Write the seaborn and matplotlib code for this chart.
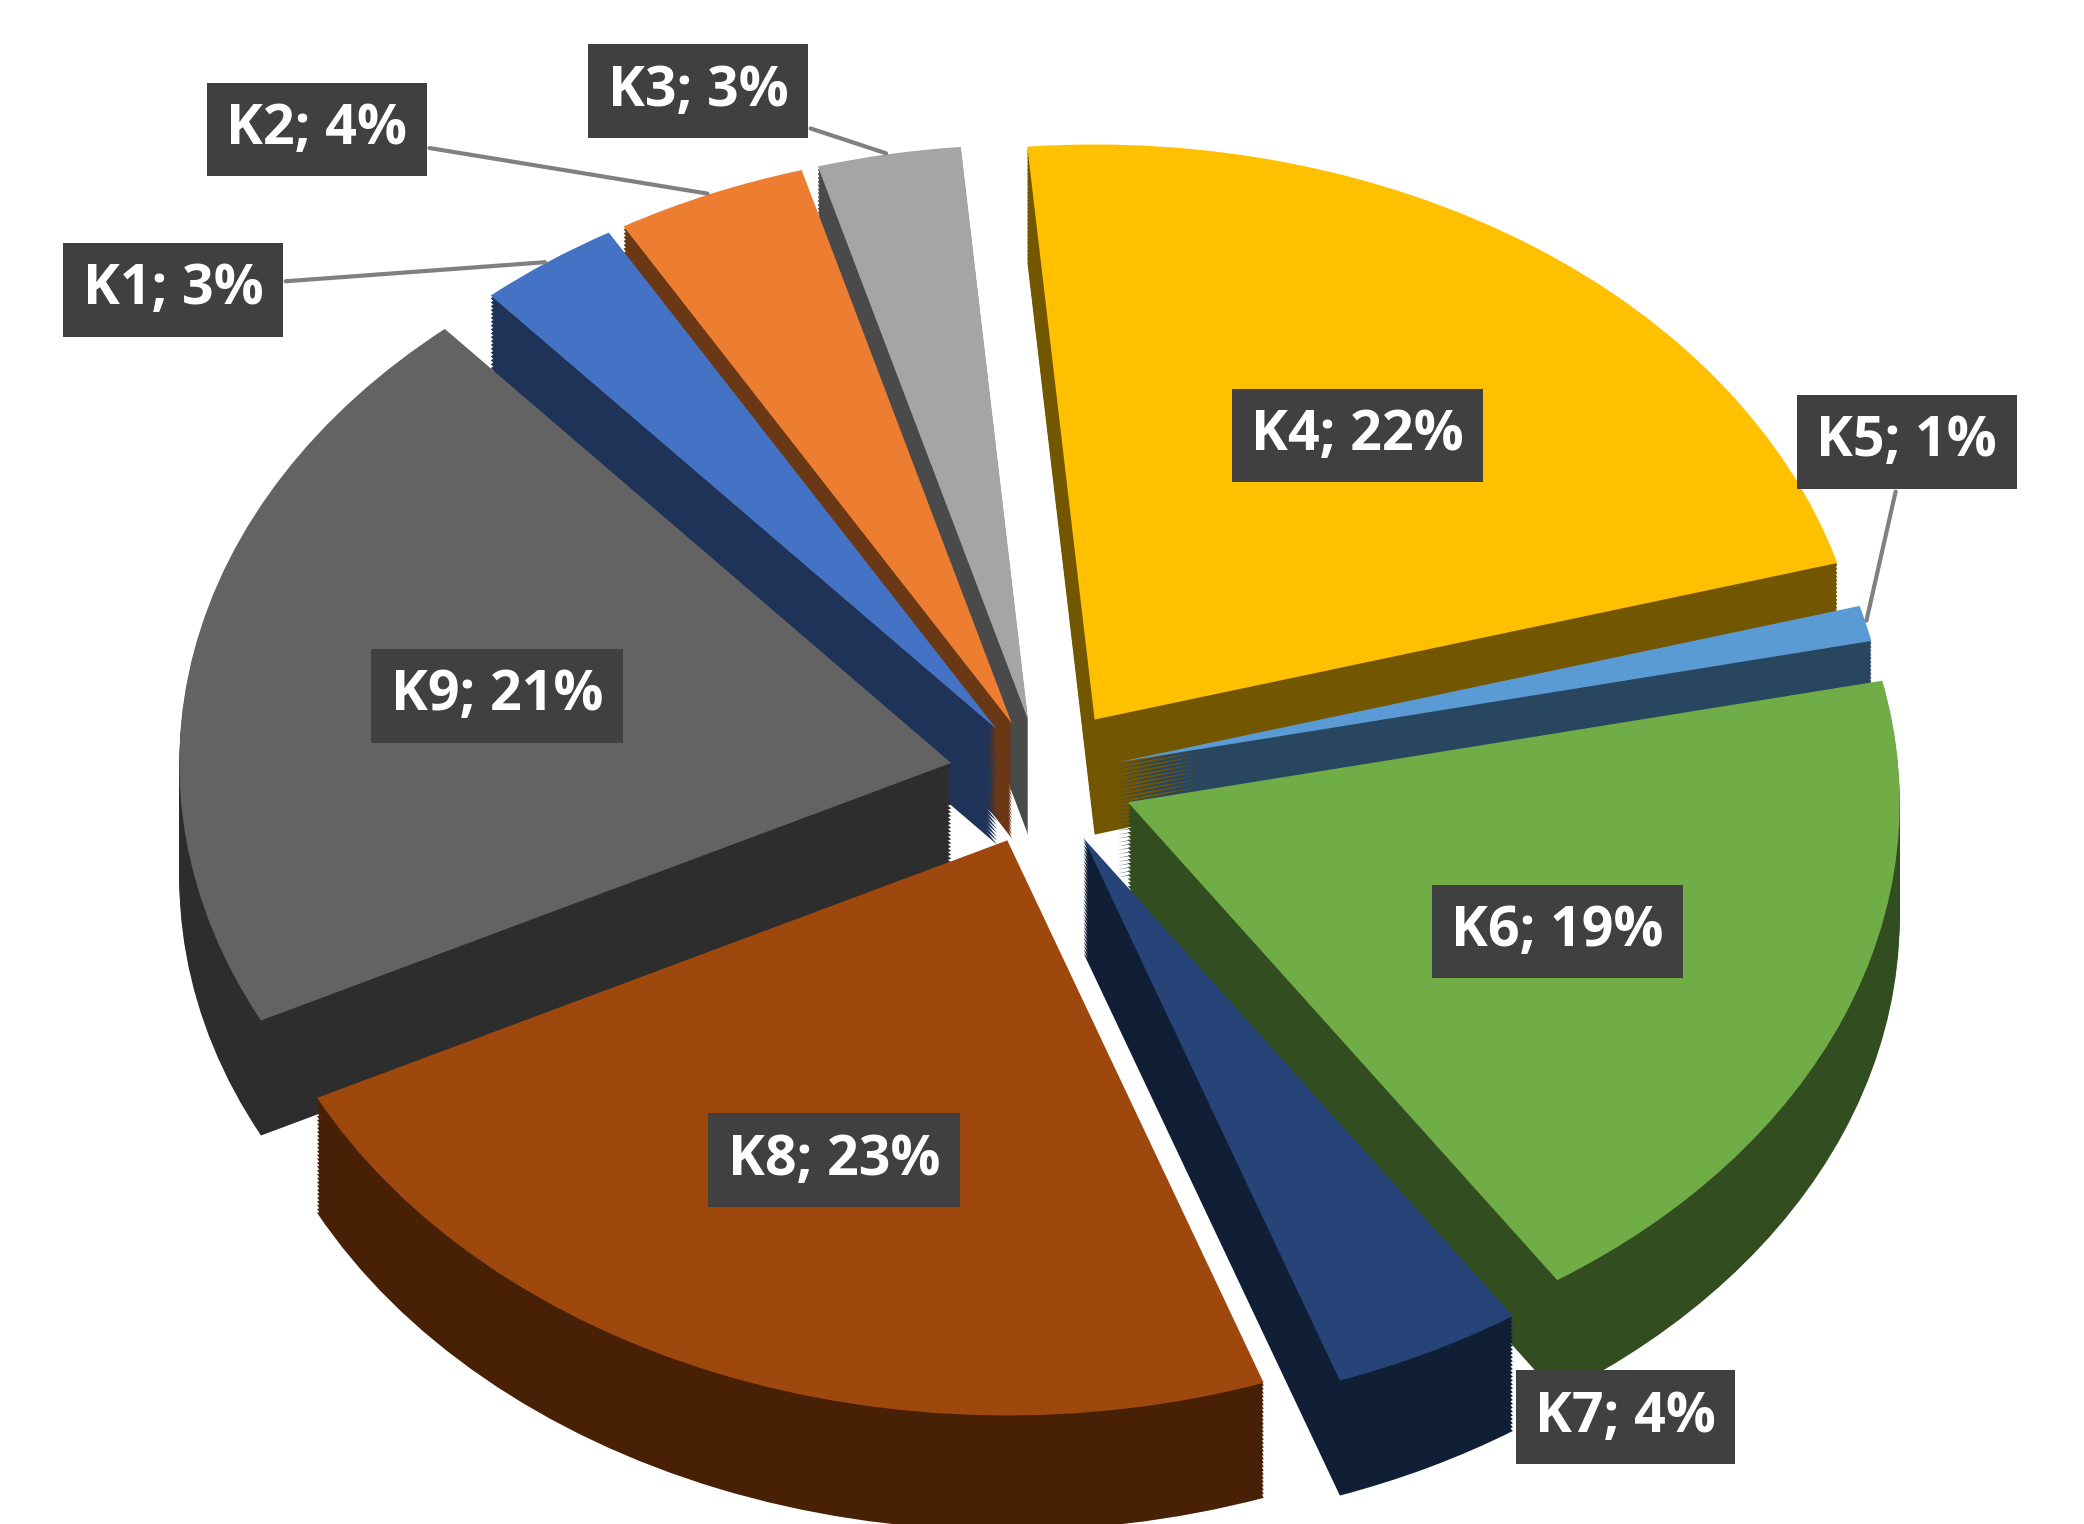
import numpy as np
import matplotlib.pyplot as plt
import matplotlib.colors as mcolors
import seaborn as sns

labels = ["K1", "K2", "K3", "K4", "K5", "K6", "K7", "K8", "K9"]
values = [3, 4, 3, 22, 1, 19, 4, 23, 21]
colors = ["#4472C4", "#ED7D31", "#A5A5A5", "#FFC000", "#5B9BD5",
          "#70AD47", "#264478", "#9E480E", "#636363"]
explode = [0.1, 0.1, 0.1, 0.12, 0.1, 0.12, 0.12, 0.12, 0.12]
start = 131

sns.set_theme(style="white")
plt.rcParams['font.family'] = ['Open Sans', 'DejaVu Sans']

fig = plt.figure(figsize=(20.84, 15.24), dpi=100)
ax = fig.add_axes([0, 0, 1, 1])

wp = dict(linewidth=0, edgecolor="none")
# side walls: stacked darker copies to fake depth
dark = [tuple(np.array(mcolors.to_rgb(c)) * 0.45) for c in colors]
for dy in np.linspace(-0.2, -0.005, 30):
    ax.pie(values, colors=dark, explode=explode, startangle=start,
           counterclock=False, center=(0, dy), radius=1.0, wedgeprops=wp)

wedges, _ = ax.pie(values, colors=colors, explode=explode, startangle=start,
                   counterclock=False, center=(0, 0), radius=1.0, wedgeprops=wp)

box = dict(boxstyle="square,pad=0.35", fc="#404040", ec="none")
# label positions in axes fraction for the small slices
text_pos = {"K1": (0.083, 0.81), "K2": (0.152, 0.915), "K3": (0.335, 0.94),
            "K5": (0.915, 0.71), "K7": (0.78, 0.07)}
for w, lab, v in zip(wedges, labels, values):
    ang = np.deg2rad((w.theta1 + w.theta2) / 2)
    cx, cy = w.center
    txt = f"{lab}; {v}%"
    if lab in text_pos:
        ex, ey = cx + np.cos(ang) * 1.0, cy + np.sin(ang) * 1.0
        arrow = None if lab == "K7" else dict(arrowstyle="-", color="gray", lw=3)
        ax.annotate(txt, xy=(ex, ey), xycoords="data",
                    xytext=text_pos[lab], textcoords="axes fraction",
                    ha="center", va="center", color="white",
                    fontsize=40, fontweight="bold", bbox=box,
                    arrowprops=arrow, zorder=4)
    else:
        r = 0.6
        ax.text(cx + np.cos(ang) * r, cy + np.sin(ang) * r, txt,
                ha="center", va="center", color="white",
                fontsize=40, fontweight="bold", bbox=box, zorder=4)

ax.set_aspect("auto")
ax.set_xlim(-1.35, 1.35)
ax.set_ylim(-1.3, 1.35)
ax.axis("off")
plt.savefig("out.png", dpi=100)
